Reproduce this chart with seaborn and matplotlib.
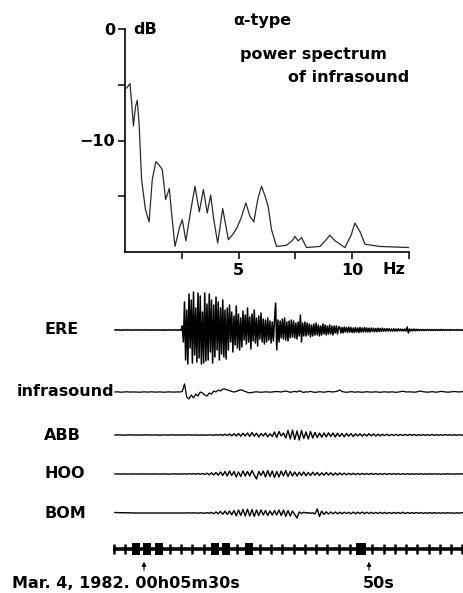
import numpy as np
import pandas as pd
import seaborn as sns
import matplotlib.pyplot as plt
from matplotlib.patches import Rectangle

# ---- power spectrum of infrasound ----
freq_hz = [0.07, 0.22, 0.30, 0.37, 0.46, 0.54, 0.62, 0.73, 0.9, 1.06, 1.2, 1.36, 1.5, 1.64,
           1.79, 1.95, 2.05, 2.2, 2.4, 2.52, 2.68, 2.9, 3.08, 3.27, 3.45, 3.62, 3.77, 3.9,
           4.08, 4.3, 4.55, 4.75, 4.91, 5.1, 5.32, 5.5, 5.67, 5.85, 6.01, 6.15, 6.3, 6.45,
           6.67, 7.1, 7.35, 7.48, 7.62, 7.77, 7.99, 8.58, 8.85, 9.02, 9.25, 9.68, 9.95,
           10.12, 10.35, 10.56, 11.2, 12.5]
power_db = [-5.3, -4.9, -6.8, -8.7, -7.0, -6.4, -8.5, -13.5, -16.2, -17.3, -13.5, -11.9, -12.2,
            -12.6, -15.3, -14.3, -16.5, -19.5, -17.8, -17.1, -19.0, -16.2, -14.1, -16.4,
            -14.4, -16.5, -14.9, -17.0, -19.2, -16.1, -18.9, -18.4, -17.9, -17.0, -15.6,
            -16.8, -17.3, -15.2, -14.1, -14.9, -15.9, -18.0, -19.5, -19.4, -19.0, -18.6,
            -19.0, -18.7, -19.6, -19.5, -18.9, -18.5, -19.0, -19.6, -18.5, -17.4, -18.2,
            -19.3, -19.5, -19.6]

# ---- seismograms: trace amplitudes in pixels, sampled from 27.4 s ----
t_start = 27.4

# ERE, one sample every 0.1 s
ere = [0.2, -0.2, 0.3, -0.1, 0.2, -0.3, 0.1, -0.2, 0.3, -0.2,
       0.2, -0.1, 0.3, -0.2, 0.1, -0.2, 0.2, -0.3, 0.2, -0.1,
       0.2, -0.2, 0.3, -0.2, 0.1, -0.2, 0.2, -0.1, 0.2, -0.2,
       0.1, -0.2, 0.2, -0.3, 0.2, -0.1, 0.3, -0.2, 0.1, -0.2,
       0.2, -0.2, 0.1, -0.3, 0.2, -0.1, 0.2, -0.2, 0.3, -0.1,
       0.2, -0.2, 0.1, -0.2, 0.3, -0.2, 0.2, -0.1, 0.2, -0.3,
       4, -12, 28, -30, 20, -34, 36, -18, 30, -33,
       38, -25, 22, -32, 37, -28, 34, -34, 18, -33,
       37, -31, 26, -30, 36, -22, 30, -33, 25, -27,
       33, -20, 28, -30, 22, -24, 30, -27, 20, -29,
       22, -20, 25, -12, 18, -22, 14, -15, 24, -18,
       16, -20, 12, -17, 19, -10, 15, -14, 22, -12,
       13, -19, 16, -11, 20, -13, 12, -16, 14, -9,
       17, -12, 11, -14, 10, -12,
       12, -10, 9, -13, 8, -11, 10, 27, -20, 10,
       -12, 9, -8, 11,
       -9, 12, -10, 8, -11, 9, -8, 10, -7, 9,
       -8, 7, -9, 8, -6, 15, -12, 7, -6, 8,
       -6, 7, -5, 6, -7, 5, -6, 6, -5, 7,
       -5, 5, -6, 4, -5, 6, -4, 5, -5, 4,
       -4, 5, -4, 4, -5, 4, -3, 4, -4, 3,
       3, -3, 2.5, -3, 3, -2, 2.5, -2.5, 3, -2,
       2.5, -2.5, 2, -2.5, 2.5, -2, 2, -2.5, 2.5, -2,
       2, -2, 2.5, -1.8, 2, -2, 1.8, -2, 2, -1.5,
       1.8, -1.8, 1.5, -1.8, 1.8, -1.5, 1.5, -1.5, 1.8, -1.2,
       1.2, -1.2, 1.5, -1, 1.2, -1.2, 1, -1.2, 1.2, -1,
       1, -1, 1.2, -0.8, 1, -1, 0.8, -1, 1, -1,
       3, -3, 1, -1, 0.8, -0.8, 1, -0.8, 0.8, -0.8,
       0.6, -0.5, 0.6, -0.5, 0.5, -0.6, 0.5, -0.4, 0.6, -0.5,
       0.5, -0.4, 0.5, -0.5, 0.4, -0.5, 0.5, -0.4, 0.4, -0.4,
       0.5, -0.4, 0.4, -0.3, 0.4, -0.4, 0.3, -0.4, 0.4, -0.3,
       0.4, -0.3, 0.3, -0.3, 0.4, -0.3, 0.3, -0.3, 0.3, -0.3,
       0.3]

# the other traces, one sample every 0.2 s
infrasound = [0, 0.2, 0, -0.2, 0, 0.2, 0, -0.1, 0.1, 0,
              0, -0.2, 0, 0.1, 0, -0.1, 0.2, 0, -0.1, 0,
              0.1, 0, -0.2, 0, 0.1, 0, -0.1, 0, 0.1, 0,
              0.5, 8, -5, -7, -3, -6, -2, -4, 0, -1,
              -3, -4, -1, -2, 1, 0, 2, 1, 3, 3,
              2, 1.5, 0.5, 0, 0.5, 1.5, 2.2, 1.5, 0.5, -0.3,
              -0.8, -0.5, 0, 0.2, 0, -0.3, 0, 0.2, 0, -0.2,
              0, 0.3, 0.5, 0.3, 0, 0.5, 1, 0.3, -0.3, 0.2,
              0.6, 0, 1.2, 0.3, -0.5, 0.2, 0, 0.6, 0, -0.4,
              0, 0.3, 0, -0.2, 0.2, 0.5, 0.3, 0, 0.4, 0.8,
              2, 0.5, 0, -0.3, 0, 0.3, 0, -0.2, 0.2, 0,
              -0.3, 0, 0.3, 0, -0.2, 0, 0.2, 0, -0.3, 0,
              0.2, 0, -0.2, 0.2, 0, -0.3, 0, 0.3, 0.8, 0.3,
              0, 0.2, 0, -0.2, 0, 0.5, 1, 0.3, 0, -0.2,
              0, 0.3, 0, -0.2, 0.2, 0.6, 0.3, 0, -0.2, 0,
              0.3, 0.5, 0.2, 0, 0.3, 0.5]

abb = [0, 0.2, 0.1, 0, -0.2, 0, 0.1, 0.2, 0, -0.1,
       0, 0.1, -0.1, 0, 0.2, 0, -0.1, 0, 0.1, 0,
       -0.2, 0, 0.1, 0, -0.1, 0.2, 0, -0.1, 0, 0.1,
       0, -0.1, 0.2, 0, -0.1, 0, 0.1, -0.2, 0, 0.1,
       0, -0.2, 0.2, 0, -0.3, 0.4, -0.2, 0.6, -0.5, 0.8,
       -0.6, 1, -0.8, 1.2, -1, 1.5, -1.2, 1.8, -1, 2,
       -1.5, 2.5, -1.2, 1.8, -2, 1.5, -1, 2, -1.8, 1.2,
       -1.5, 3, -2.5, 3.5, -1, 2, -3, 4.5, -4, 5,
       -4.5, 4, -5, 4.5, -3.5, 3, -4, 3.5, -3, 2.5,
       -2.5, 2, -2.2, 2, -1.8, 2.2, -1.5, 2, -2, 1.8,
       -1.5, 1.5, -1.8, 1.5, -1.2, 1.4, -1.5, 1.2, -1, 1.2,
       -1.2, 1, -1, 1.2, -0.8, 1, -1, 0.8, -0.8, 0.7,
       -0.6, 0.8, -0.7, 0.6, -0.5, 0.7, -0.6, 0.5, -0.5, 0.6,
       -0.5, 0.6, -0.4, 0.5, -0.5, 0.4, -0.4, 0.5, -0.4, 0.4,
       -0.4, 0.5, -0.3, 0.4, -0.4, 0.3, -0.3, 0.4, -0.3, 0.3,
       -0.3, 0.3, -0.3, 0.3, -0.2, 0.3]

hoo = [0, 0.1, 0, -0.1, 0.1, 0, -0.1, 0, 0.1, 0,
       0, -0.1, 0.1, 0, 0, 0.1, -0.1, 0, 0.1, 0,
       -0.1, 0, 0.1, 0, -0.2, 0, 0.2, 0, -0.1, 0.1,
       0, 0.2, -0.2, 0.3, 0, 0.4, -0.3, 0.5, -0.3, 0.6,
       -0.5, 0.8, -0.8, 1.2, -1, 1.5, -1.2, 2, -1.5, 2.5,
       -2, 3, -1.5, 2.5, -3, 2, -2.5, 3, -2, 2.5,
       -2, 3.5, -1, -5, 2.5, -1.5, 3, -3, 3.5, -2.5,
       3, -3.5, 2.5, -3, 3, -2, 3.5, -2.5, 2.5, -2,
       2, -2, 1.8, -1.5, 2, -1.8, 1.5, -1.5, 1.8, -1.2,
       1.5, -1.5, 1.2, -1.2, 1.5, -1, 1.2, -1.2, 1, -1,
       1, -0.8, 0.8, -0.8, 0.7, -0.6, 0.7, -0.6, 0.6, -0.5,
       0.6, -0.5, 0.5, -0.5, 0.6, -0.4, 0.5, -0.4, 0.4, -0.4,
       0.5, -0.4, 0.4, -0.3, 0.4, -0.3, 0.3, -0.4, 0.3, -0.3,
       0.4, -0.3, 0.3, -0.3, 0.3, -0.2, 0.3, -0.3, 0.2, -0.3,
       0.3, -0.2, 0.3, -0.2, 0.2, -0.3, 0.2, -0.2, 0.3, -0.2,
       0.2, -0.2, 0.2, -0.2, 0.2, -0.2]

bom = [0.5, 0.4, 0.4, 0.3, 0.3, 0.2, 0.2, 0.1, 0.1, 0,
       0, 0, -0.1, 0, -0.1, 0, -0.1, 0, 0, -0.1,
       0, 0.1, 0, -0.1, 0, 0.1, 0, -0.1, 0, 0.1,
       0, -0.1, 0, 0.2, -0.1, 0.2, 0, -0.2, 0.2, 0,
       -0.3, 0.4, -0.3, 0.6, -0.8, 1, -0.8, 1.5, -1.2, 1.8,
       -1.5, 2, -1.8, 2.5, -2.8, 3, -2.5, 3.5, -3, 3.8,
       -3, 3.5, -3.5, 3, -2.5, 3, -2, 2.5, -2.5, 2,
       -2, 2.5, -2, 3, -2.5, 3, -3.5, 2.5, -3, 2,
       -1.5, -5, 1, -0.5, 0.8, 0, 0.3, -0.3, 0.2, -1,
       4, -3.5, 2, -1.5, 1.2, -1, 1, -0.8, 1, -0.8,
       0.8, -0.7, 0.8, -0.6, 0.7, -0.8, 0.9, -0.7, 0.8, -0.6,
       0.9, -0.7, 0.8, -0.6, 0.7, -0.6, 0.6, -0.5, 0.7, -0.5,
       0.6, -0.5, 0.5, -0.5, 0.6, -0.4, 0.5, -0.5, 0.8, -0.6,
       0.5, -0.4, 0.4, -0.4, 0.5, -0.3, 0.4, -0.4, 0.3, -0.3,
       0.4, -0.3, 0.3, -0.3, 0.3, -0.3, 0.3, -0.2, 0.3, -0.2,
       0.2, -0.3, 0.2, -0.2, 0.3, -0.2]

station_names = ["ERE", "infrasound", "ABB", "HOO", "BOM"]
traces = [ere, infrasound, abb, hoo, bom]
trace_steps = [0.1, 0.2, 0.2, 0.2, 0.2]

# time marks (seconds past 00h05m); blocks are the coded marks
mark_seconds = list(range(27, 59))
block_seconds = [29, 30, 31, 36, 37, 39, 49]
arrow_seconds = [30, 50]
arrow_labels = ["Mar. 4, 1982. 00h05m30s", "50s"]

# ---- layout (pixels of the 463x593 picture) ----
W, H = 463, 593
X_AT_30S = 144.0
PX_PER_S = 11.25
baselines = [330, 392, 435, 474, 513]
label_x = [44, 17, 44, 44, 44]
trace_lw = [1.1, 0.9, 1.0, 1.0, 1.0]
bar_y = 549
tick_phase = 0.3


def px(x, y):
    return x / W, 1 - y / H


sns.set_style("white")
plt.rcParams['font.family'] = ['DejaVu Sans']
plt.rcParams['axes.unicode_minus'] = True

fig = plt.figure(figsize=(W / 100, H / 100), dpi=100)

# spectrum panel
ax = fig.add_axes([125 / W, 1 - 252 / H, (409 - 125) / W, (252 - 29) / H])
spec = pd.DataFrame({"f": freq_hz, "db": power_db})
sns.lineplot(data=spec, x="f", y="db", ax=ax, color="#2a2a2a", lw=0.9,
             estimator=None, sort=False)
ax.set_xlim(0, 12.5)
ax.set_ylim(-20, 0)
ax.set_xlabel("")
ax.set_ylabel("")
for s in ["top", "right"]:
    ax.spines[s].set_visible(False)
for s in ["left", "bottom"]:
    ax.spines[s].set_linewidth(1.2)
    ax.spines[s].set_color("black")
ax.set_yticks([0, -5, -10, -15])
ax.set_yticklabels(["0", "", "\u221210", ""])
ax.set_xticks([2.5, 5, 7.5, 10, 12.5])
ax.set_xticklabels(["", "5", "", "10", ""])
ax.tick_params(axis="both", direction="out", length=5, width=1.1, color="black",
               labelcolor="black", labelsize=11.5, left=True, bottom=True)
ax.tick_params(axis="y", pad=2)
ax.tick_params(axis="x", pad=3)
for lab in ax.get_xticklabels() + ax.get_yticklabels():
    lab.set_fontweight("bold")

txt = dict(fontsize=11.5, fontweight="bold", color="black")
fig.text(*px(133, 30), "dB", ha="left", va="center", **txt)
fig.text(*px(382, 270), "Hz", ha="left", va="center", **txt)
fig.text(*px(233, 21), "\u03b1-type", ha="left", va="center", **txt)
fig.text(*px(240, 55), "power spectrum", ha="left", va="center", **txt)
fig.text(*px(409, 77), "of infrasound", ha="right", va="center", **txt)

# seismogram panel, x in seconds, y in pixels
ax2 = fig.add_axes([0, 0, 1, 1])
ax2.set_xlim(30 - X_AT_30S / PX_PER_S, 30 + (W - X_AT_30S) / PX_PER_S)
ax2.set_ylim(H, 0)
ax2.axis("off")

for name, vals, step, base, lx, lw in zip(station_names, traces, trace_steps,
                                          baselines, label_x, trace_lw):
    t = t_start + step * np.arange(len(vals))
    df = pd.DataFrame({"t": t, "y": base - np.asarray(vals, dtype=float)})
    sns.lineplot(data=df, x="t", y="y", ax=ax2, color="black", lw=lw,
                 estimator=None, sort=False)
    fig.text(*px(lx, base), name, ha="left", va="center", **txt)

# time code bar
ax2.hlines(bar_y, 27.24, 58.5, color="black", lw=2.6)
marks = [m + tick_phase for m in mark_seconds if m not in block_seconds]
ax2.vlines(marks, bar_y - 5, bar_y + 5, color="black", lw=1.8)
for b in block_seconds:
    w = 0.9 if b == 49 else 0.7
    ax2.add_patch(Rectangle((b + tick_phase - w / 2, bar_y - 6), w, 12,
                            facecolor="black", edgecolor="none"))

for sec in arrow_seconds:
    ax2.annotate("", xy=(sec, 559), xytext=(sec, 573),
                 arrowprops=dict(arrowstyle="-|>", lw=0.8, color="black",
                                 mutation_scale=6))
fig.text(*px(12, 583), arrow_labels[0], ha="left", va="center", **txt)
fig.text(*px(363, 583), arrow_labels[1], ha="left", va="center", **txt)

fig.savefig("out.png", dpi=100)
